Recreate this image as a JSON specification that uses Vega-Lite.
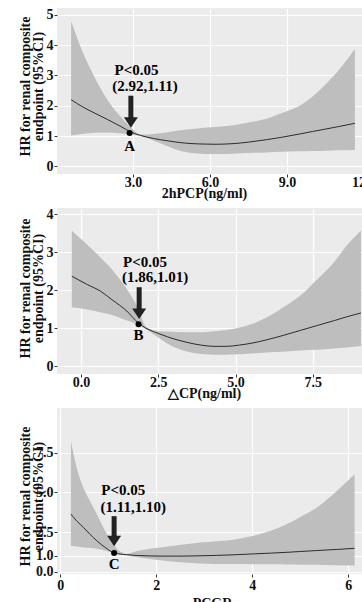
{
  "$schema": "https://vega.github.io/schema/vega-lite/v6.json",
  "padding": {"left": 17, "top": 7, "right": 0, "bottom": 0},
  "background": "white",
  "spacing": 34,
  "bounds": "flush",
  "config": {
    "view": {"fill": "#EBEBEB", "stroke": null},
    "axis": {
      "grid": true, "gridColor": "#FFFFFF", "gridWidth": 1.2, "domain": false,
      "ticks": true, "tickColor": "#333333", "tickSize": 3, "tickWidth": 1,
      "labelFont": "Liberation Serif", "labelFontWeight": "bold", "labelFontSize": 14,
      "labelColor": "#111111", "labelPadding": 1, "labelFlush": false, "labelOverlap": false,
      "titleFont": "Liberation Serif", "titleFontWeight": "bold", "titleFontSize": 14,
      "titleColor": "#111111", "titlePadding": 0, "titleLineHeight": 13
    },
    "axisX": {"labelPadding": -2, "titlePadding": -3}
  },
  "datasets": {
    "c1": [
      {"x": 0.59, "lo": 1.02, "fit": 2.2, "hi": 4.78},
      {"x": 1.0, "lo": 1.07, "fit": 1.98, "hi": 3.85},
      {"x": 1.5, "lo": 1.11, "fit": 1.76, "hi": 2.95},
      {"x": 2.0, "lo": 1.12, "fit": 1.55, "hi": 2.2},
      {"x": 2.5, "lo": 1.09, "fit": 1.33, "hi": 1.66},
      {"x": 2.9, "lo": 1.05, "fit": 1.14, "hi": 1.3},
      {"x": 3.3, "lo": 1.0, "fit": 1.02, "hi": 1.05},
      {"x": 3.8, "lo": 0.85, "fit": 0.92, "hi": 1.07},
      {"x": 4.3, "lo": 0.68, "fit": 0.85, "hi": 1.12},
      {"x": 5.0, "lo": 0.48, "fit": 0.77, "hi": 1.21},
      {"x": 5.6, "lo": 0.42, "fit": 0.74, "hi": 1.26},
      {"x": 6.2, "lo": 0.41, "fit": 0.73, "hi": 1.3},
      {"x": 6.9, "lo": 0.42, "fit": 0.75, "hi": 1.36},
      {"x": 7.5, "lo": 0.44, "fit": 0.8, "hi": 1.45},
      {"x": 8.2, "lo": 0.46, "fit": 0.88, "hi": 1.57},
      {"x": 8.8, "lo": 0.48, "fit": 0.96, "hi": 1.76},
      {"x": 9.5, "lo": 0.5, "fit": 1.07, "hi": 2.0},
      {"x": 10.0, "lo": 0.51, "fit": 1.15, "hi": 2.3},
      {"x": 10.5, "lo": 0.52, "fit": 1.23, "hi": 2.7},
      {"x": 11.0, "lo": 0.53, "fit": 1.31, "hi": 3.15},
      {"x": 11.65, "lo": 0.54, "fit": 1.42, "hi": 3.87}
    ],
    "c2": [
      {"x": -0.3, "lo": 1.55, "fit": 2.37, "hi": 3.57},
      {"x": 0.2, "lo": 1.49, "fit": 2.15, "hi": 3.2},
      {"x": 0.62, "lo": 1.42, "fit": 1.98, "hi": 2.87},
      {"x": 1.0, "lo": 1.35, "fit": 1.75, "hi": 2.55},
      {"x": 1.48, "lo": 1.2, "fit": 1.45, "hi": 2.03},
      {"x": 1.86, "lo": 1.08, "fit": 1.13, "hi": 1.5},
      {"x": 2.1, "lo": 0.97, "fit": 1.0, "hi": 1.03},
      {"x": 2.5, "lo": 0.75, "fit": 0.86, "hi": 0.92},
      {"x": 2.8, "lo": 0.59, "fit": 0.77, "hi": 0.91},
      {"x": 3.4, "lo": 0.39, "fit": 0.63, "hi": 0.89},
      {"x": 3.9, "lo": 0.32, "fit": 0.55, "hi": 0.89},
      {"x": 4.3, "lo": 0.3, "fit": 0.52, "hi": 0.92},
      {"x": 4.7, "lo": 0.3, "fit": 0.52, "hi": 0.95},
      {"x": 5.1, "lo": 0.31, "fit": 0.55, "hi": 1.01},
      {"x": 5.5, "lo": 0.33, "fit": 0.6, "hi": 1.1},
      {"x": 6.0, "lo": 0.36, "fit": 0.69, "hi": 1.28},
      {"x": 6.55, "lo": 0.38, "fit": 0.81, "hi": 1.55},
      {"x": 7.1, "lo": 0.41, "fit": 0.94, "hi": 1.86},
      {"x": 7.6, "lo": 0.43, "fit": 1.06, "hi": 2.25},
      {"x": 8.2, "lo": 0.46, "fit": 1.2, "hi": 2.75},
      {"x": 8.6, "lo": 0.49, "fit": 1.3, "hi": 3.18},
      {"x": 9.06, "lo": 0.53, "fit": 1.4, "hi": 3.57}
    ],
    "c3": [
      {"x": 0.22, "lo": 1.64, "fit": 3.63, "hi": 8.24},
      {"x": 0.34, "lo": 1.58, "fit": 3.2, "hi": 6.56},
      {"x": 0.48, "lo": 1.52, "fit": 2.79, "hi": 5.3},
      {"x": 0.62, "lo": 1.49, "fit": 2.35, "hi": 4.45},
      {"x": 0.76, "lo": 1.45, "fit": 1.95, "hi": 3.63},
      {"x": 0.97, "lo": 1.3, "fit": 1.45, "hi": 2.37},
      {"x": 1.12, "lo": 1.15, "fit": 1.18, "hi": 1.65},
      {"x": 1.38, "lo": 1.02, "fit": 1.07, "hi": 1.12},
      {"x": 1.6, "lo": 0.9, "fit": 1.02, "hi": 1.3},
      {"x": 1.87, "lo": 0.8, "fit": 0.99, "hi": 1.45},
      {"x": 2.08, "lo": 0.72, "fit": 0.98, "hi": 1.53},
      {"x": 2.56, "lo": 0.58, "fit": 0.98, "hi": 1.72},
      {"x": 2.91, "lo": 0.52, "fit": 1.0, "hi": 1.84},
      {"x": 3.6, "lo": 0.48, "fit": 1.06, "hi": 2.02},
      {"x": 4.02, "lo": 0.47, "fit": 1.12, "hi": 2.26},
      {"x": 4.4, "lo": 0.46, "fit": 1.17, "hi": 2.6},
      {"x": 4.72, "lo": 0.45, "fit": 1.22, "hi": 3.0},
      {"x": 5.0, "lo": 0.44, "fit": 1.27, "hi": 3.45},
      {"x": 5.34, "lo": 0.43, "fit": 1.33, "hi": 4.04},
      {"x": 5.76, "lo": 0.41, "fit": 1.4, "hi": 5.09},
      {"x": 6.13, "lo": 0.38, "fit": 1.47, "hi": 6.14}
    ],
    "a1": [{"x": 2.92, "top": 2.33, "head": 1.45}],
    "d1": [{"x": 2.87, "y": 1.1}],
    "t1": [
      {"x": 3.14, "y": 3.19, "t": "P<0.05"},
      {"x": 3.47, "y": 2.66, "t": "(2.92,1.11)"},
      {"x": 2.87, "y": 0.68, "t": "A"}
    ],
    "a2": [{"x": 1.88, "top": 2.08, "head": 1.38}],
    "d2": [{"x": 1.86, "y": 1.1}],
    "t2": [
      {"x": 2.07, "y": 2.74, "t": "P<0.05"},
      {"x": 2.4, "y": 2.34, "t": "(1.86,1.01)"},
      {"x": 1.86, "y": 0.81, "t": "B"}
    ],
    "a3": [{"x": 1.12, "top": 3.5, "head": 1.93}],
    "d3": [{"x": 1.12, "y": 1.18}],
    "t3": [
      {"x": 1.31, "y": 5.13, "t": "P<0.05"},
      {"x": 1.52, "y": 4.07, "t": "(1.11,1.10)"},
      {"x": 1.12, "y": 0.45, "t": "C"}
    ]
  },
  "vconcat": [
    {
      "width": 312, "height": 166,
      "resolve": {"axis": {"x": "independent", "y": "independent"}},
      "layer": [
        {
          "data": {"name": "c1"},
          "mark": {"type": "area", "fill": "#BEBEBE", "interpolate": "monotone"},
          "encoding": {
            "x": {"field": "x", "type": "quantitative", "scale": {"domain": [0.04, 12.2], "nice": false, "zero": false},
                  "axis": {"orient": "bottom", "values": [3, 6, 9, 12], "format": ".1f", "title": "2hPCP(ng/ml)", "titleX": 147}},
            "y": {"field": "lo", "type": "quantitative", "scale": {"domain": [-0.25, 5.22], "nice": false, "zero": false},
                  "axis": {"orient": "left", "values": [0, 1, 2, 3, 4, 5], "format": "d", "title": ["HR for renal composite", "endpoint (95%CI)"], "titleX": -25, "titleY": 78}},
            "y2": {"field": "hi"}
          }
        },
        {
          "data": {"name": "c1"},
          "mark": {"type": "line", "stroke": "#2B2B2B", "strokeWidth": 1, "interpolate": "monotone"},
          "encoding": {
            "x": {"field": "x", "type": "quantitative", "axis": {"orient": "bottom", "values": [1.5, 4.5, 7.5, 10.5], "labels": false, "ticks": false, "gridWidth": 0.6, "title": null}},
            "y": {"field": "fit", "type": "quantitative", "axis": {"orient": "left", "values": [0.5, 1.5, 2.5, 3.5, 4.5], "labels": false, "ticks": false, "gridWidth": 0.6, "title": null}}
          }
        },
        {
          "data": {"name": "a1"},
          "mark": {"type": "rule", "stroke": "#222222", "strokeWidth": 5},
          "encoding": {
            "x": {"field": "x", "type": "quantitative", "axis": null},
            "y": {"field": "top", "type": "quantitative", "axis": null},
            "y2": {"field": "head"}
          }
        },
        {
          "data": {"name": "a1"},
          "mark": {"type": "point", "shape": "M-1,-0.75L1,-0.75L0,0.75Z", "size": 196, "filled": true, "color": "#222222", "opacity": 1},
          "encoding": {
            "x": {"field": "x", "type": "quantitative", "axis": null},
            "y": {"field": "head", "type": "quantitative", "axis": null}
          }
        },
        {
          "data": {"name": "d1"},
          "mark": {"type": "point", "shape": "circle", "size": 36, "filled": true, "color": "#000000", "opacity": 1},
          "encoding": {
            "x": {"field": "x", "type": "quantitative", "axis": null},
            "y": {"field": "y", "type": "quantitative", "axis": null}
          }
        },
        {
          "data": {"name": "t1"},
          "mark": {"type": "text", "font": "Liberation Serif", "fontWeight": "bold", "fontSize": 15, "color": "#000000", "align": "center", "baseline": "middle"},
          "encoding": {
            "x": {"field": "x", "type": "quantitative", "axis": null},
            "y": {"field": "y", "type": "quantitative", "axis": null},
            "text": {"field": "t"}
          }
        }
      ]
    },
    {
      "width": 312, "height": 166,
      "resolve": {"axis": {"x": "independent", "y": "independent"}},
      "layer": [
        {
          "data": {"name": "c2"},
          "mark": {"type": "area", "fill": "#BEBEBE", "interpolate": "monotone"},
          "encoding": {
            "x": {"field": "x", "type": "quantitative", "scale": {"domain": [-0.78, 9.32], "nice": false, "zero": false},
                  "axis": {"orient": "bottom", "values": [0, 2.5, 5, 7.5], "format": ".1f", "title": "△CP(ng/ml)", "titleX": 147}},
            "y": {"field": "lo", "type": "quantitative", "scale": {"domain": [-0.21, 4.17], "nice": false, "zero": false},
                  "axis": {"orient": "left", "values": [0, 1, 2, 3, 4], "format": "d", "title": ["HR for renal composite", "endpoint (95%CI)"], "titleX": -25, "titleY": 80}},
            "y2": {"field": "hi"}
          }
        },
        {
          "data": {"name": "c2"},
          "mark": {"type": "line", "stroke": "#2B2B2B", "strokeWidth": 1, "interpolate": "monotone"},
          "encoding": {
            "x": {"field": "x", "type": "quantitative", "axis": {"orient": "bottom", "values": [1.25, 3.75, 6.25, 8.75], "labels": false, "ticks": false, "gridWidth": 0.6, "title": null}},
            "y": {"field": "fit", "type": "quantitative", "axis": {"orient": "left", "values": [0.5, 1.5, 2.5, 3.5], "labels": false, "ticks": false, "gridWidth": 0.6, "title": null}}
          }
        },
        {
          "data": {"name": "a2"},
          "mark": {"type": "rule", "stroke": "#222222", "strokeWidth": 5},
          "encoding": {
            "x": {"field": "x", "type": "quantitative", "axis": null},
            "y": {"field": "top", "type": "quantitative", "axis": null},
            "y2": {"field": "head"}
          }
        },
        {
          "data": {"name": "a2"},
          "mark": {"type": "point", "shape": "M-1,-0.75L1,-0.75L0,0.75Z", "size": 196, "filled": true, "color": "#222222", "opacity": 1},
          "encoding": {
            "x": {"field": "x", "type": "quantitative", "axis": null},
            "y": {"field": "head", "type": "quantitative", "axis": null}
          }
        },
        {
          "data": {"name": "d2"},
          "mark": {"type": "point", "shape": "circle", "size": 36, "filled": true, "color": "#000000", "opacity": 1},
          "encoding": {
            "x": {"field": "x", "type": "quantitative", "axis": null},
            "y": {"field": "y", "type": "quantitative", "axis": null}
          }
        },
        {
          "data": {"name": "t2"},
          "mark": {"type": "text", "font": "Liberation Serif", "fontWeight": "bold", "fontSize": 15, "color": "#000000", "align": "center", "baseline": "middle"},
          "encoding": {
            "x": {"field": "x", "type": "quantitative", "axis": null},
            "y": {"field": "y", "type": "quantitative", "axis": null},
            "text": {"field": "t"}
          }
        }
      ]
    },
    {
      "width": 312, "height": 166,
      "resolve": {"axis": {"x": "independent", "y": "independent"}},
      "layer": [
        {
          "data": {"name": "c3"},
          "mark": {"type": "area", "fill": "#BEBEBE", "interpolate": "monotone"},
          "encoding": {
            "x": {"field": "x", "type": "quantitative", "scale": {"domain": [-0.07, 6.43], "nice": false, "zero": false},
                  "axis": {"orient": "bottom", "values": [0, 2, 4, 6], "format": "d", "title": "PCGR", "titleX": 155, "labelPadding": 1, "titlePadding": 4}},
            "y": {"field": "lo", "type": "quantitative", "scale": {"domain": [-0.15, 10.33], "nice": false, "zero": false},
                  "axis": {"orient": "left", "values": [0, 1, 2.5, 5, 7.5], "format": ".1f", "title": ["HR for renal composite", "endpoint (95%CI)"], "titleX": -25, "titleY": 88}},
            "y2": {"field": "hi"}
          }
        },
        {
          "data": {"name": "c3"},
          "mark": {"type": "line", "stroke": "#2B2B2B", "strokeWidth": 1, "interpolate": "monotone"},
          "encoding": {
            "x": {"field": "x", "type": "quantitative", "axis": {"orient": "bottom", "values": [1, 3, 5], "labels": false, "ticks": false, "gridWidth": 0.6, "title": null}},
            "y": {"field": "fit", "type": "quantitative", "axis": {"orient": "left", "values": [0.5, 1.75, 3.75, 6.25, 8.75, 10], "labels": false, "ticks": false, "gridWidth": 0.6, "title": null}}
          }
        },
        {
          "data": {"name": "a3"},
          "mark": {"type": "rule", "stroke": "#222222", "strokeWidth": 5},
          "encoding": {
            "x": {"field": "x", "type": "quantitative", "axis": null},
            "y": {"field": "top", "type": "quantitative", "axis": null},
            "y2": {"field": "head"}
          }
        },
        {
          "data": {"name": "a3"},
          "mark": {"type": "point", "shape": "M-1,-0.75L1,-0.75L0,0.75Z", "size": 196, "filled": true, "color": "#222222", "opacity": 1},
          "encoding": {
            "x": {"field": "x", "type": "quantitative", "axis": null},
            "y": {"field": "head", "type": "quantitative", "axis": null}
          }
        },
        {
          "data": {"name": "d3"},
          "mark": {"type": "point", "shape": "circle", "size": 36, "filled": true, "color": "#000000", "opacity": 1},
          "encoding": {
            "x": {"field": "x", "type": "quantitative", "axis": null},
            "y": {"field": "y", "type": "quantitative", "axis": null}
          }
        },
        {
          "data": {"name": "t3"},
          "mark": {"type": "text", "font": "Liberation Serif", "fontWeight": "bold", "fontSize": 15, "color": "#000000", "align": "center", "baseline": "middle"},
          "encoding": {
            "x": {"field": "x", "type": "quantitative", "axis": null},
            "y": {"field": "y", "type": "quantitative", "axis": null},
            "text": {"field": "t"}
          }
        }
      ]
    }
  ]
}
